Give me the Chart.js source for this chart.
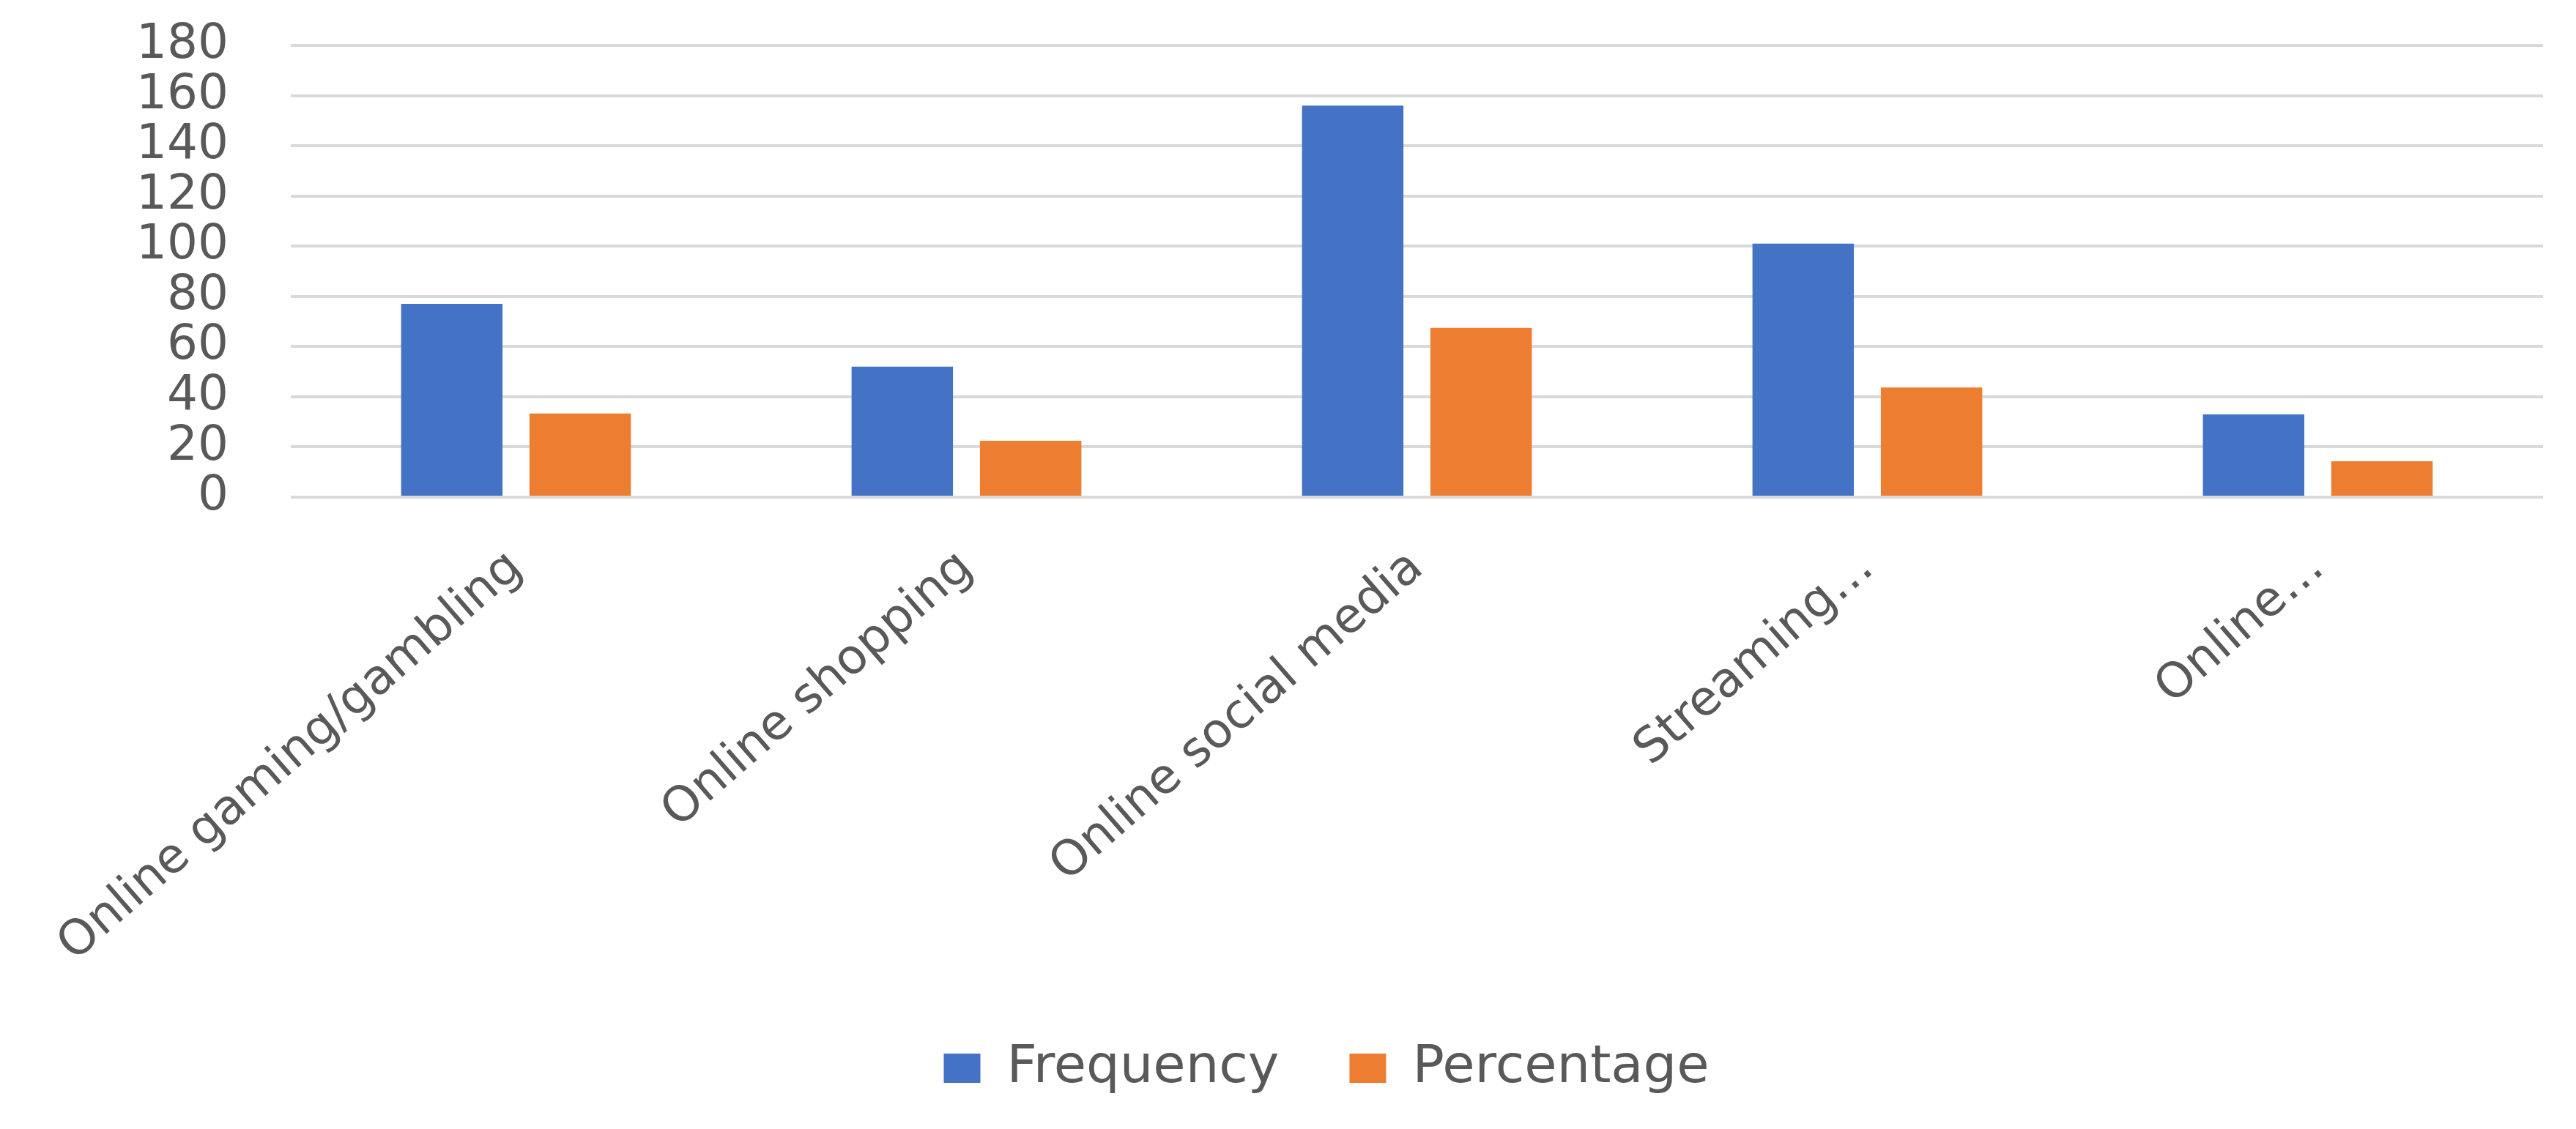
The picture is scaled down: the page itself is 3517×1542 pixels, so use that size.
<!DOCTYPE html>
<html>
<head>
<meta charset="utf-8">
<script src="https://cdn.jsdelivr.net/npm/chart.js@4"></script>
<style>
  html, body { margin: 0; padding: 0; background: #ffffff; }
  #wrap { width: 3517px; height: 1542px; position: relative; }
</style>
</head>
<body>
<div id="wrap"><canvas id="usageChart"></canvas></div>
<script>
const categories = [
  "Online gaming/gambling",
  "Online shopping",
  "Online social media",
  "Streaming…",
  "Online…",
];
const frequency = [77, 52, 156, 101, 33];
const percentage = [33.3, 22.5, 67.5, 43.7, 14.3];
const yTicks = [0, 20, 40, 60, 80, 100, 120, 140, 160, 180];

const textGrey = "#595959";
const fontFamily = "'DejaVu Sans', sans-serif";

document.addEventListener("DOMContentLoaded", function () {
  const ctx = document.getElementById("usageChart");
  if (!ctx) return;

  // legend in the reference sits a little right of the canvas centre
  const legendShift = {
    id: "legendShift",
    afterLayout(chart) {
      if (!chart.legend) return;
      chart.legend.left += 75;
      chart.legend.right += 75;
    },
  };

  new Chart(ctx, {
    type: "bar",
    data: {
      labels: categories,
      datasets: [
        {
          label: "Frequency",
          data: frequency,
          backgroundColor: "#4472C4",
          barPercentage: 0.79,
          categoryPercentage: 0.57,
        },
        {
          label: "Percentage",
          data: percentage,
          backgroundColor: "#ED7D31",
          barPercentage: 0.79,
          categoryPercentage: 0.57,
        },
      ],
    },
    options: {
      responsive: true,
      maintainAspectRatio: false,
      animation: false,
      layout: {
        padding: { top: 62, right: 45, bottom: 37, left: 0 },
      },
      scales: {
        x: {
          grid: { display: false },
          border: { display: false },
          ticks: {
            color: textGrey,
            font: { family: fontFamily, size: 66 },
            minRotation: 41,
            maxRotation: 41,
            padding: 50,
            autoSkip: false,
          },
          afterFit(scale) {
            // keep the plot bottom where the reference has it
            const legendH = scale.chart.legend ? scale.chart.legend.height : 0;
            scale.height = scale.chart.height - 679 - legendH - 37;
            scale.paddingLeft = 0;
            scale.paddingRight = 0;
          },
        },
        y: {
          min: 0,
          max: 180,
          afterBuildTicks(scale) {
            scale.ticks = yTicks.map((v) => ({ value: v }));
          },
          grid: {
            color: "#d9d9d9",
            lineWidth: 4,
            drawTicks: false,
          },
          border: { display: false },
          ticks: {
            color: textGrey,
            font: { family: fontFamily, size: 66 },
            padding: 85,
            autoSkip: false,
          },
          afterFit(scale) {
            scale.width = 397;
            scale.paddingTop = 0;
            scale.paddingBottom = 0;
          },
        },
      },
      plugins: {
        legend: {
          position: "bottom",
          labels: {
            color: textGrey,
            font: { family: fontFamily, size: 72 },
            boxWidth: 50,
            boxHeight: 40,
            padding: 96,
          },
        },
        tooltip: { enabled: false },
      },
    },
    plugins: [legendShift],
  });
});
</script>
</body>
</html>
